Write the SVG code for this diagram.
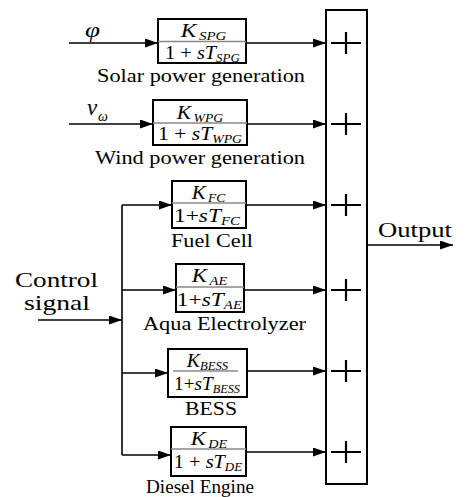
<svg xmlns="http://www.w3.org/2000/svg" width="468" height="497" viewBox="0 0 468 497" font-family="Liberation Serif, Times New Roman, serif">
<defs>
<marker id="arr" markerUnits="userSpaceOnUse" markerWidth="13" markerHeight="9" refX="13" refY="4.5" orient="auto">
<path d="M0,0 L13,4.5 L0,9 z" fill="#000"/>
</marker>
<style>
.box{fill:#fff;stroke:#000;stroke-width:2}
.div{stroke:#888;stroke-width:1.6}
.ln{fill:none;stroke:#000;stroke-width:1.6}
.ar{fill:none;stroke:#000;stroke-width:1.6;marker-end:url(#arr)}
.plus{stroke:#000;stroke-width:2.2}
text{fill:#000;font-family:'Liberation Serif','Times New Roman',serif}
.lab{font-size:18px}
.big{font-size:21px}
.f{font-size:18px;text-anchor:middle}
.i{font-style:italic}
.s{font-size:11.5px;font-style:italic}
</style>
</defs>

<g id="connectors">
<line class="ar" x1="69" y1="43" x2="158" y2="43"/>
<line class="ar" x1="69" y1="124" x2="153" y2="124"/>
<line class="ln" x1="122" y1="205" x2="122" y2="455"/>
<line class="ar" x1="38" y1="320" x2="122" y2="320"/>
<line class="ar" x1="122" y1="205" x2="172" y2="205"/>
<line class="ar" x1="122" y1="290" x2="176" y2="290"/>
<line class="ar" x1="122" y1="373" x2="168" y2="373"/>
<line class="ar" x1="122" y1="455" x2="171" y2="455"/>
<line class="ar" x1="246" y1="43" x2="326" y2="43"/>
<line class="ar" x1="247" y1="124" x2="326" y2="124"/>
<line class="ar" x1="246" y1="205" x2="326" y2="205"/>
<line class="ar" x1="244" y1="290" x2="326" y2="290"/>
<line class="ar" x1="247" y1="371" x2="326" y2="371"/>
<line class="ar" x1="246" y1="452" x2="326" y2="452"/>
<line class="ar" x1="367" y1="245" x2="453" y2="245"/>
</g>

<g id="inputs">
<text class="i" x="85" y="37" font-size="21" textLength="15" lengthAdjust="spacingAndGlyphs">φ</text>
<text class="i" x="87" y="115" font-size="23">v</text>
<text class="i" x="98" y="121" font-size="14">ω</text>
<text class="big" x="15" y="287" textLength="83" lengthAdjust="spacingAndGlyphs">Control</text>
<text class="big" x="24" y="310" textLength="66" lengthAdjust="spacingAndGlyphs">signal</text>
</g>

<g id="spg">
<rect class="box" x="158" y="19" width="88" height="44"/>
<line class="div" x1="158" y1="41.5" x2="246" y2="41.5"/>
<g transform="translate(203.5,37) scale(1.3,1)"><text class="f"><tspan class="i">K</tspan><tspan class="s" dx="2" dy="3">SPG</tspan></text></g>
<g transform="translate(202.5,59) scale(1.13,1)"><text class="f">1 + <tspan class="i">sT</tspan><tspan class="s" dy="3">SPG</tspan></text></g>
<text class="lab" x="97" y="82" textLength="208" lengthAdjust="spacingAndGlyphs">Solar power generation</text>
</g>

<g id="wpg">
<rect class="box" x="153" y="100" width="94" height="45"/>
<line class="div" x1="153" y1="123" x2="247" y2="123"/>
<g transform="translate(200,119) scale(1.19,1)"><text class="f"><tspan class="i">K</tspan><tspan class="s" dx="2" dy="3">WPG</tspan></text></g>
<g transform="translate(200,140) scale(1.2,1)"><text class="f">1 + <tspan class="i">sT</tspan><tspan class="s" dy="3">WPG</tspan></text></g>
<text class="lab" x="95" y="164" textLength="210" lengthAdjust="spacingAndGlyphs">Wind power generation</text>
</g>

<g id="fc">
<rect class="box" x="172" y="181" width="74" height="47"/>
<line class="div" x1="172" y1="203" x2="246" y2="203"/>
<g transform="translate(208.5,199) scale(1.17,1)"><text class="f"><tspan class="i">K</tspan><tspan class="s" dx="2" dy="3">FC</tspan></text></g>
<g transform="translate(207,222) scale(1.3,1)"><text class="f">1+<tspan class="i">sT</tspan><tspan class="s" dy="3">FC</tspan></text></g>
<text class="lab" x="171" y="247" textLength="82" lengthAdjust="spacingAndGlyphs">Fuel Cell</text>
</g>

<g id="ae">
<rect class="box" x="176" y="264" width="68" height="48"/>
<line class="div" x1="176" y1="287" x2="244" y2="287"/>
<g transform="translate(209.5,282) scale(1.27,1)"><text class="f"><tspan class="i">K</tspan><tspan class="s" dx="2" dy="3">AE</tspan></text></g>
<g transform="translate(209.5,306) scale(1.3,1)"><text class="f">1+<tspan class="i">sT</tspan><tspan class="s" dy="3">AE</tspan></text></g>
<text class="lab" x="143" y="330" textLength="163" lengthAdjust="spacingAndGlyphs">Aqua Electrolyzer</text>
</g>

<g id="bess">
<rect class="box" x="168" y="349" width="79" height="48"/>
<line class="div" x1="173" y1="371" x2="238" y2="371" stroke="#444"/>
<g transform="translate(207.5,367) scale(1.1,1)"><text class="f"><tspan class="i">K</tspan><tspan class="s" dy="3">BESS</tspan></text></g>
<g transform="translate(207,390) scale(1.07,1)"><text class="f">1+<tspan class="i">sT</tspan><tspan class="s" dy="3">BESS</tspan></text></g>
<text class="lab" x="185" y="415" textLength="52" lengthAdjust="spacingAndGlyphs">BESS</text>
</g>

<g id="de">
<rect class="box" x="171" y="427" width="75" height="49"/>
<line class="div" x1="171" y1="449" x2="246" y2="449"/>
<g transform="translate(209,445) scale(1.24,1)"><text class="f"><tspan class="i">K</tspan><tspan class="s" dx="2" dy="3">DE</tspan></text></g>
<g transform="translate(208,468) scale(1.13,1)"><text class="f">1 + <tspan class="i">sT</tspan><tspan class="s" dy="3">DE</tspan></text></g>
<text class="lab" x="146" y="493" textLength="108" lengthAdjust="spacingAndGlyphs">Diesel Engine</text>
</g>

<g id="summer">
<rect class="box" x="326" y="10" width="41" height="474"/>
<path class="plus" d="M331,43 H361 M346,32 V54 M331,124 H361 M346,113 V135 M331,205 H361 M346,194 V216 M331,290 H361 M346,279 V301 M331,371 H361 M346,360 V382 M331,452 H361 M346,441 V463"/>
</g>

<g id="output">
<text class="big" x="378" y="237" textLength="74" lengthAdjust="spacingAndGlyphs">Output</text>
</g>
</svg>
